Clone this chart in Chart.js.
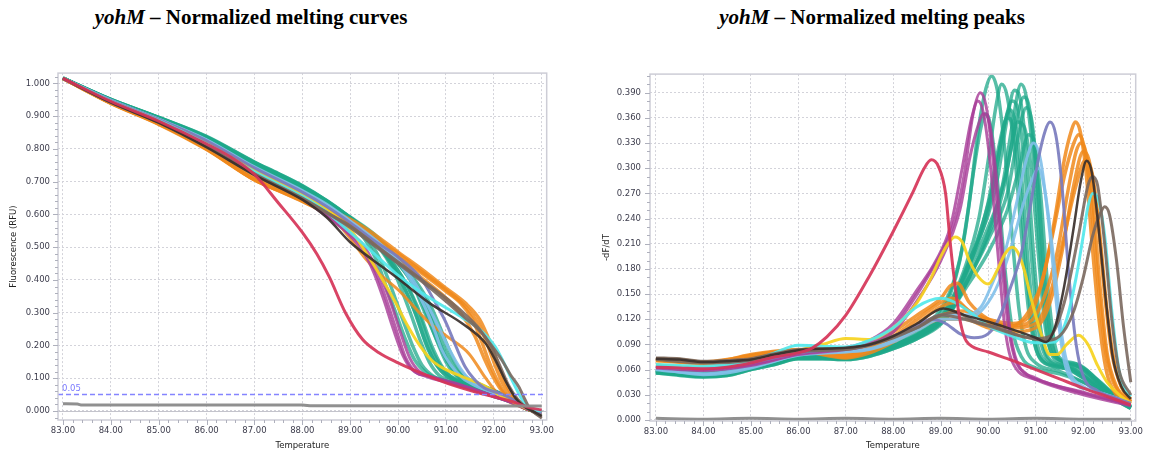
<!DOCTYPE html>
<html><head><meta charset="utf-8">
<script src="https://cdn.jsdelivr.net/npm/chart.js@4.4.1/dist/chart.umd.min.js"></script>
<style>
html,body{margin:0;padding:0;background:#fff;width:1149px;height:453px;overflow:hidden}
.t{position:absolute;top:4px;font-family:"Liberation Serif","Times New Roman",serif;font-weight:bold;font-size:21px;line-height:26px;white-space:nowrap;transform:translateX(-50%);color:#000}
#c1{position:absolute;left:0;top:60px}
#c2{position:absolute;left:590px;top:60px}
</style></head><body>
<div class="t" style="left:251px"><i>yohM</i> – Normalized melting curves</div>
<div class="t" style="left:872px"><i>yohM</i> – Normalized melting peaks</div>
<canvas id="c1" width="560" height="393" style="width:560px;height:393px"></canvas>
<canvas id="c2" width="559" height="393" style="width:559px;height:393px"></canvas>
<script>
// ---------- tick labels ----------
const tempTicks = [83,84,85,86,87,88,89,90,91,92,93];
const rfuTicks = [0,0.1,0.2,0.3,0.4,0.5,0.6,0.7,0.8,0.9,1.0];
const dfdtTicks = [0,0.03,0.06,0.09,0.12,0.15,0.18,0.21,0.24,0.27,0.30,0.33,0.36,0.39];
const threshold = 0.05;

// ---------- normalized melting curves (temperature, RFU) ----------
const curveNTC = [[83,.022],[83.3,.021],[83.4,.018],[88,.018],[88.2,.016],[93,.015]];
const curveRed = [[83,1.015],[84,.945],[85,.885],[86,.815],[86.5,.775],[87,.722],[87.5,.635],[88,.545],[88.3,.48],[88.56,.41],[88.9,.3],[89.26,.218],[89.6,.178],[90,.147],[90.3,.127],[91,.086],[91.69,.055],[92.38,.029],[92.7,.012],[93,.003]];
const curveMagenta1 = [[83,1.015],[84,.944],[85,.886],[86,.818],[87,.735],[87.5,.695],[88,.652],[88.5,.6],[89,.54],[89.3,.49],[89.6,.4],[89.8,.32],[90,.23],[90.15,.165],[90.37,.118],[90.6,.108],[91,.09],[91.5,.07],[92,.045],[92.4,.025],[92.7,.006],[93,-.004]];
const curveMagenta2 = [[83,1.015],[84,.945],[85,.887],[86,.82],[87,.737],[88,.655],[88.5,.605],[89,.545],[89.3,.5],[89.6,.42],[89.85,.33],[90.05,.24],[90.25,.16],[90.45,.12],[90.8,.1],[91.2,.085],[91.6,.065],[92,.045],[92.4,.025],[92.7,.006],[93,-.004]];
const curveMagenta3 = [[83,1.015],[84,.943],[85,.885],[86,.816],[87,.732],[88,.648],[88.5,.595],[89,.535],[89.3,.48],[89.5,.42],[89.7,.34],[89.9,.25],[90.1,.17],[90.3,.125],[90.6,.105],[91,.088],[91.5,.068],[92,.044],[92.4,.024],[92.7,.006],[93,-.004]];
const curveTeal1 = [[83,1.015],[84,.948],[85,.892],[86,.828],[87,.748],[87.5,.712],[88,.672],[88.5,.628],[89,.575],[89.3,.535],[89.6,.47],[89.85,.38],[90.07,.29],[90.3,.2],[90.5,.14],[90.75,.105],[91,.09],[91.5,.068],[92,.045],[92.4,.025],[92.7,.006],[93,-.006]];
const curveTeal2 = [[83,1.016],[84,.95],[85,.895],[86,.832],[87,.752],[87.5,.716],[88,.677],[88.5,.633],[89,.58],[89.3,.545],[89.6,.5],[89.9,.43],[90.1,.36],[90.28,.29],[90.45,.22],[90.65,.15],[90.85,.11],[91.1,.092],[91.5,.075],[92,.05],[92.4,.028],[92.7,.007],[93,-.005]];
const curveTeal3 = [[83,1.015],[84,.949],[85,.894],[86,.834],[87,.755],[87.5,.72],[88,.682],[88.5,.638],[89,.585],[89.5,.52],[89.9,.45],[90.2,.38],[90.4,.32],[90.55,.26],[90.7,.2],[90.9,.14],[91.1,.105],[91.4,.085],[91.8,.065],[92.2,.04],[92.5,.02],[92.7,.006],[93,-.004]];
const curveTeal4 = [[83,1.016],[84,.951],[85,.896],[86,.836],[87,.758],[87.5,.723],[88,.686],[88.5,.642],[89,.59],[89.5,.53],[90,.45],[90.3,.39],[90.5,.33],[90.69,.26],[90.85,.2],[91,.15],[91.2,.11],[91.5,.088],[91.9,.066],[92.3,.04],[92.6,.015],[92.7,.006],[93,-.004]];
const curveTeal5 = [[83,1.015],[84,.95],[85,.895],[86,.835],[87,.756],[87.5,.722],[88,.685],[88.5,.641],[89,.59],[89.5,.535],[90,.46],[90.4,.38],[90.6,.33],[90.8,.26],[90.95,.2],[91.15,.14],[91.35,.105],[91.7,.08],[92.1,.055],[92.5,.022],[92.7,.006],[93,-.003]];
const curveTeal6 = [[83,1.015],[84,.947],[85,.891],[86,.826],[87,.745],[87.5,.708],[88,.668],[88.5,.622],[89,.57],[89.3,.525],[89.55,.46],[89.75,.38],[89.95,.3],[90.15,.22],[90.35,.155],[90.6,.115],[91,.092],[91.5,.07],[92,.045],[92.4,.025],[92.7,.006],[93,-.005]];
const curveTeal7 = [[83,1.015],[84,.949],[85,.893],[86,.831],[87,.751],[87.5,.716],[88,.678],[88.5,.634],[89,.585],[89.5,.52],[89.9,.44],[90.15,.37],[90.3,.32],[90.45,.26],[90.62,.19],[90.8,.14],[91,.108],[91.4,.082],[91.8,.062],[92.2,.04],[92.5,.02],[92.7,.006],[93,-.004]];
const curveTeal8 = [[83,1.016],[84,.951],[85,.896],[86,.838],[87,.76],[87.5,.725],[88,.688],[88.5,.643],[89,.59],[89.5,.53],[90,.45],[90.3,.39],[90.5,.32],[90.62,.28],[90.8,.22],[91,.16],[91.2,.12],[91.5,.09],[91.9,.068],[92.3,.042],[92.6,.016],[92.7,.006],[93,-.004]];
const curveTeal9 = [[83,1.015],[84,.949],[85,.894],[86,.833],[87,.753],[87.5,.718],[88,.68],[88.5,.636],[89,.582],[89.5,.52],[89.9,.44],[90.15,.37],[90.3,.32],[90.4,.285],[90.55,.22],[90.75,.155],[90.95,.115],[91.3,.088],[91.8,.064],[92.2,.04],[92.5,.02],[92.7,.006],[93,-.004]];
const curveTeal10 = [[83,1.015],[84,.95],[85,.895],[86,.835],[87,.756],[87.5,.721],[88,.684],[88.5,.64],[89,.59],[89.5,.535],[90,.455],[90.35,.385],[90.6,.315],[90.75,.255],[90.9,.195],[91.1,.135],[91.3,.1],[91.7,.077],[92.1,.052],[92.5,.022],[92.7,.006],[93,-.004]];
const curveTeal11 = [[83,1.016],[84,.951],[85,.896],[86,.837],[87,.759],[87.5,.724],[88,.687],[88.5,.643],[89,.592],[89.5,.54],[90,.465],[90.4,.39],[90.65,.33],[90.85,.265],[91,.21],[91.2,.145],[91.4,.105],[91.7,.082],[92.1,.056],[92.5,.023],[92.7,.006],[93,-.003]];
const curveTeal12 = [[83,1.015],[84,.949],[85,.894],[86,.833],[87,.754],[87.5,.719],[88,.681],[88.5,.637],[89,.585],[89.5,.525],[89.9,.45],[90.2,.38],[90.35,.33],[90.5,.27],[90.65,.205],[90.85,.145],[91.05,.11],[91.4,.086],[91.8,.064],[92.2,.04],[92.5,.02],[92.7,.006],[93,-.004]];
const curveLightBlue1 = [[83,1.015],[84,.949],[85,.89],[86,.826],[87,.742],[88,.67],[88.5,.628],[89,.578],[89.5,.52],[90,.455],[90.3,.39],[90.55,.32],[90.75,.25],[90.9,.19],[91.1,.14],[91.35,.1],[91.6,.078],[92,.055],[92.4,.03],[92.7,.007],[93,-.004]];
const curveLightBlue2 = [[83,1.015],[84,.948],[85,.891],[86,.828],[87,.745],[88,.673],[88.5,.632],[89,.58],[89.5,.525],[90,.46],[90.4,.38],[90.7,.3],[90.9,.24],[91.1,.18],[91.3,.13],[91.5,.095],[91.8,.07],[92.2,.045],[92.5,.022],[92.7,.007],[93,-.004]];
const curveSlate = [[83,1.015],[84,.948],[85,.89],[86,.825],[87,.742],[88,.668],[88.5,.625],[89,.575],[89.5,.52],[90,.47],[90.5,.4],[90.78,.33],[91,.27],[91.2,.2],[91.4,.135],[91.6,.095],[91.8,.07],[92.1,.055],[92.4,.035],[92.7,.008],[93,-.006]];
const curveYellow = [[83,1.015],[84,.946],[85,.888],[86,.82],[87,.735],[88,.66],[88.5,.615],[89,.555],[89.3,.49],[89.6,.42],[89.95,.33],[90.2,.26],[90.45,.2],[90.7,.155],[90.95,.13],[91.3,.107],[91.6,.09],[91.85,.073],[92.1,.05],[92.4,.028],[92.7,.007],[93,-.004]];
const curveOrange1 = [[83,1.015],[84,.94],[85,.876],[86,.8],[87,.707],[87.5,.675],[88,.645],[88.5,.61],[89,.575],[89.5,.525],[90,.47],[90.5,.42],[91,.365],[91.3,.33],[91.55,.28],[91.75,.21],[91.9,.15],[92.05,.1],[92.25,.05],[92.5,.02],[92.7,.006],[93,-.004]];
const curveOrange2 = [[83,1.015],[84,.939],[85,.875],[86,.798],[87,.705],[87.5,.674],[88,.645],[88.5,.612],[89,.58],[89.5,.53],[90,.48],[90.5,.425],[91,.37],[91.4,.32],[91.7,.26],[91.9,.19],[92.05,.13],[92.2,.08],[92.4,.035],[92.7,.006],[93,-.005]];
const curveOrange3 = [[83,1.015],[84,.941],[85,.878],[86,.803],[87,.71],[87.5,.679],[88,.65],[88.5,.618],[89,.585],[89.5,.54],[90,.485],[90.5,.432],[91,.375],[91.4,.33],[91.7,.28],[91.95,.2],[92.1,.14],[92.3,.07],[92.5,.03],[92.7,.007],[93,-.006]];
const curveOrange4 = [[83,1.015],[84,.94],[85,.877],[86,.8],[87,.706],[87.5,.673],[88,.64],[88.5,.605],[89,.57],[89.5,.515],[90,.46],[90.5,.405],[91,.345],[91.3,.3],[91.6,.23],[91.8,.16],[92,.1],[92.2,.055],[92.45,.025],[92.7,.006],[93,-.004]];
const curveOrange5 = [[83,1.015],[84,.94],[85,.877],[86,.8],[87,.705],[88,.64],[88.5,.6],[88.8,.562],[89,.527],[89.3,.468],[89.6,.42],[90,.37],[90.65,.27],[91,.23],[91.48,.175],[91.83,.1],[92.1,.05],[92.4,.022],[92.7,.006],[93,-.004]];
const curveDark = [[83,1.015],[84,.942],[85,.88],[86,.805],[87,.72],[88,.645],[88.5,.592],[89,.515],[89.5,.458],[89.95,.41],[90.65,.33],[91.34,.267],[91.83,.206],[92.05,.15],[92.25,.09],[92.45,.04],[92.65,.012],[92.75,.004],[93,-.015]];
const curveBrown1 = [[83,1.015],[84,.943],[85,.882],[86,.808],[87,.724],[88,.65],[88.5,.607],[89,.56],[89.5,.505],[90,.45],[90.5,.395],[91,.335],[91.35,.29],[91.69,.247],[91.95,.2],[92.17,.155],[92.35,.11],[92.52,.074],[92.65,.035],[92.73,.012],[92.85,-.005],[93,-.022]];
const curveBrown2 = [[83,1.015],[84,.942],[85,.881],[86,.806],[87,.722],[88,.648],[88.5,.606],[89,.565],[89.5,.51],[90,.455],[90.5,.4],[91,.345],[91.4,.295],[91.7,.25],[91.95,.195],[92.15,.13],[92.3,.08],[92.5,.035],[92.7,.008],[93,-.018]];
const curveCyan = [[83,1.015],[84,.946],[85,.887],[86,.815],[87,.73],[88,.655],[88.5,.608],[89,.545],[89.5,.48],[89.95,.42],[90.5,.36],[91,.315],[91.34,.285],[91.7,.25],[92.03,.196],[92.2,.15],[92.38,.094],[92.55,.045],[92.66,.02],[92.8,.006],[93,0]];

// ---------- normalized melting peaks (temperature, -dF/dT) ----------
const peakNTC = [[83,.002],[84,.001],[85,.002],[86,.001],[87,.002],[88,.001],[89,.002],[90,.001],[91,.002],[92,.001],[93,.001]];
const peakRed = [[83,.063],[83.5,.062],[84,.061],[84.5,.063],[85,.068],[85.5,.075],[86,.08],[86.3,.086],[86.6,.099],[87,.125],[87.5,.172],[88,.225],[88.4,.27],[88.65,.3],[88.8,.31],[88.95,.302],[89.1,.27],[89.2,.21],[89.3,.16],[89.4,.12],[89.5,.098],[89.6,.09],[90,.081],[90.5,.071],[91,.06],[91.5,.049],[92,.038],[92.5,.028],[93,.018]];
const peakMagenta1 = [[83,.063],[83.5,.061],[84,.06],[84.5,.062],[85,.066],[85.5,.072],[86,.079],[86.5,.082],[87,.085],[87.5,.092],[88,.11],[88.5,.15],[88.8,.178],[89,.198],[89.3,.24],[89.5,.295],[89.68,.365],[89.83,.39],[89.95,.375],[90.1,.31],[90.25,.21],[90.4,.12],[90.55,.075],[90.8,.055],[91.2,.045],[92,.032],[93,.018]];
const peakMagenta2 = [[83,.062],[84,.059],[85,.065],[86,.078],[87,.084],[87.5,.09],[88,.105],[88.5,.142],[89,.19],[89.4,.25],[89.6,.31],[89.78,.35],[89.9,.365],[90.02,.355],[90.15,.3],[90.3,.2],[90.45,.11],[90.6,.07],[91,.05],[92,.033],[93,.018]];
const peakMagenta3 = [[83,.064],[84,.061],[85,.067],[86,.08],[87,.086],[87.5,.095],[88,.115],[88.5,.155],[88.9,.19],[89.2,.23],[89.45,.3],[89.65,.36],[89.78,.38],[89.9,.365],[90.05,.3],[90.2,.2],[90.35,.11],[90.5,.07],[91,.048],[92,.03],[93,.017]];
const peakTeal1 = [[83,.058],[83.5,.055],[84,.053],[84.5,.056],[85,.062],[85.5,.069],[86,.076],[86.5,.076],[87,.075],[87.5,.079],[88,.09],[88.5,.104],[89,.128],[89.2,.15],[89.4,.19],[89.6,.26],[89.8,.35],[89.95,.395],[90.07,.41],[90.2,.39],[90.35,.32],[90.5,.22],[90.65,.13],[90.8,.085],[91,.068],[91.5,.058],[92,.045],[92.5,.03],[93,.016]];
const peakTeal2 = [[83,.06],[83.5,.057],[84,.055],[84.5,.057],[85,.064],[85.5,.07],[86,.077],[86.5,.077],[87,.076],[87.5,.08],[88,.09],[88.5,.102],[89,.122],[89.2,.14],[89.5,.18],[89.8,.24],[90,.31],[90.15,.37],[90.28,.4],[90.4,.385],[90.55,.32],[90.7,.22],[90.85,.13],[91,.085],[91.3,.065],[91.8,.06],[92.2,.045],[92.6,.03],[93,.015]];
const peakTeal3 = [[83,.057],[83.5,.054],[84,.052],[84.5,.054],[85,.061],[85.5,.067],[86,.074],[86.5,.074],[87,.073],[87.5,.077],[88,.087],[88.5,.1],[89,.12],[89.2,.135],[89.6,.19],[90,.245],[90.2,.29],[90.4,.36],[90.55,.393],[90.68,.38],[90.8,.32],[90.95,.2],[91.1,.11],[91.25,.075],[91.6,.065],[92,.055],[92.4,.038],[92.7,.025],[93,.014]];
const peakTeal4 = [[83,.059],[83.5,.056],[84,.054],[84.5,.055],[85,.063],[85.5,.068],[86,.075],[86.5,.075],[87,.074],[87.5,.078],[88,.088],[88.5,.1],[89,.118],[89.2,.13],[89.6,.18],[90,.23],[90.3,.28],[90.5,.35],[90.69,.4],[90.8,.385],[90.95,.31],[91.1,.19],[91.25,.1],[91.4,.072],[91.8,.066],[92.2,.05],[92.6,.03],[93,.015]];
const peakTeal5 = [[83,.056],[83.5,.053],[84,.051],[84.5,.053],[85,.06],[85.5,.066],[86,.073],[86.5,.073],[87,.072],[87.5,.076],[88,.085],[88.5,.097],[89,.115],[89.2,.127],[89.6,.17],[90,.215],[90.4,.27],[90.6,.33],[90.8,.372],[90.92,.355],[91.05,.28],[91.2,.16],[91.35,.09],[91.6,.068],[92,.06],[92.4,.04],[92.8,.022],[93,.016]];
const peakTeal6 = [[83,.06],[83.5,.058],[84,.056],[84.5,.058],[85,.065],[85.5,.071],[86,.078],[86.5,.078],[87,.077],[87.5,.082],[88,.093],[88.5,.108],[89,.132],[89.3,.17],[89.5,.22],[89.7,.3],[89.85,.35],[89.95,.365],[90.05,.35],[90.2,.28],[90.35,.18],[90.5,.11],[90.7,.075],[91,.062],[91.5,.055],[92,.045],[92.5,.03],[93,.017]];
const peakTeal7 = [[83,.058],[83.5,.056],[84,.054],[84.5,.056],[85,.063],[85.5,.069],[86,.076],[86.5,.076],[87,.075],[87.5,.079],[88,.089],[88.5,.101],[89,.122],[89.2,.14],[89.6,.185],[90,.25],[90.2,.31],[90.35,.355],[90.45,.37],[90.57,.355],[90.7,.29],[90.85,.18],[91,.1],[91.2,.07],[91.6,.063],[92,.05],[92.4,.035],[92.8,.02],[93,.014]];
const peakTeal8 = [[83,.057],[83.5,.055],[84,.053],[84.5,.055],[85,.062],[85.5,.068],[86,.074],[86.5,.074],[87,.074],[87.5,.078],[88,.087],[88.5,.099],[89,.118],[89.2,.13],[89.6,.17],[90,.22],[90.3,.27],[90.5,.33],[90.62,.355],[90.75,.35],[90.9,.3],[91.05,.2],[91.2,.11],[91.4,.075],[91.8,.068],[92.2,.052],[92.6,.032],[93,.015]];
const peakTeal9 = [[83,.058],[83.5,.055],[84,.053],[84.5,.055],[85,.062],[85.5,.068],[86,.075],[86.5,.075],[87,.074],[87.5,.078],[88,.088],[88.5,.1],[89,.12],[89.3,.145],[89.7,.2],[90,.26],[90.2,.32],[90.4,.36],[90.52,.35],[90.65,.29],[90.8,.18],[90.95,.1],[91.15,.07],[91.6,.062],[92,.05],[92.5,.03],[93,.015]];
const peakTeal10 = [[83,.057],[83.5,.054],[84,.052],[84.5,.054],[85,.061],[85.5,.067],[86,.074],[86.5,.074],[87,.073],[87.5,.077],[88,.086],[88.5,.098],[89,.116],[89.4,.15],[89.8,.195],[90.1,.24],[90.4,.3],[90.6,.36],[90.75,.385],[90.87,.37],[91,.3],[91.15,.18],[91.3,.1],[91.5,.072],[91.9,.066],[92.3,.048],[92.7,.028],[93,.015]];
const peakTeal11 = [[83,.056],[83.5,.054],[84,.052],[84.5,.053],[85,.06],[85.5,.066],[86,.073],[86.5,.073],[87,.072],[87.5,.076],[88,.085],[88.5,.097],[89,.114],[89.5,.155],[90,.2],[90.4,.25],[90.65,.3],[90.85,.34],[90.97,.33],[91.1,.27],[91.25,.16],[91.4,.09],[91.6,.07],[92,.062],[92.4,.042],[92.8,.022],[93,.016]];
const peakTeal12 = [[83,.059],[83.5,.056],[84,.054],[84.5,.056],[85,.063],[85.5,.069],[86,.076],[86.5,.076],[87,.075],[87.5,.079],[88,.089],[88.5,.101],[89,.12],[89.4,.16],[89.8,.22],[90.1,.28],[90.3,.34],[90.5,.38],[90.62,.37],[90.75,.31],[90.9,.2],[91.05,.11],[91.25,.072],[91.6,.064],[92,.052],[92.4,.036],[92.8,.02],[93,.014]];
const peakLightBlue1 = [[83,.061],[83.5,.057],[84,.054],[84.5,.056],[85,.062],[85.5,.07],[86,.078],[86.5,.08],[87,.082],[87.5,.085],[88,.095],[88.5,.11],[89,.125],[89.5,.125],[89.85,.135],[90.1,.165],[90.35,.2],[90.6,.26],[90.8,.31],[90.95,.33],[91.1,.31],[91.3,.22],[91.45,.13],[91.6,.07],[91.8,.045],[92.2,.035],[92.6,.028],[93,.02]];
const peakLightBlue2 = [[83,.06],[84,.055],[85,.063],[86,.077],[87,.081],[87.5,.084],[88,.093],[88.5,.107],[89,.12],[89.5,.12],[89.85,.13],[90.15,.155],[90.45,.2],[90.75,.26],[90.95,.29],[91.05,.3],[91.2,.27],[91.4,.18],[91.55,.1],[91.7,.06],[92,.04],[92.5,.03],[93,.02]];
const peakSlate = [[83,.064],[83.5,.062],[84,.062],[84.5,.064],[85,.068],[85.5,.074],[86,.08],[86.5,.083],[87,.085],[87.5,.09],[88,.1],[88.5,.113],[88.8,.12],[89.1,.115],[89.4,.103],[89.7,.098],[90,.103],[90.2,.118],[90.45,.155],[90.7,.2],[90.9,.26],[91.05,.31],[91.2,.345],[91.3,.355],[91.42,.34],[91.55,.28],[91.7,.17],[91.85,.09],[92,.052],[92.3,.035],[92.7,.026],[93,.02]];
const peakYellow = [[83,.066],[83.5,.064],[84,.063],[84.5,.065],[85,.07],[85.5,.076],[86,.083],[86.5,.09],[87,.097],[87.5,.096],[88,.11],[88.5,.14],[88.8,.17],[89,.195],[89.15,.21],[89.3,.218],[89.45,.212],[89.6,.19],[89.8,.17],[90,.162],[90.2,.18],[90.35,.198],[90.5,.206],[90.62,.2],[90.75,.18],[90.9,.145],[91.1,.105],[91.3,.078],[91.45,.078],[91.65,.09],[91.9,.101],[92.1,.09],[92.3,.065],[92.5,.045],[92.8,.028],[93,.02]];
const peakOrange1 = [[83,.072],[83.5,.071],[84,.068],[84.5,.071],[85,.077],[85.5,.081],[86,.083],[86.5,.08],[87,.077],[87.5,.085],[88,.1],[88.5,.12],[89,.14],[89.25,.145],[89.6,.13],[90,.12],[90.5,.115],[90.8,.12],[91,.14],[91.2,.18],[91.4,.24],[91.6,.31],[91.75,.345],[91.83,.355],[91.93,.345],[92.05,.3],[92.2,.2],[92.35,.11],[92.5,.055],[92.7,.03],[93,.02]];
const peakOrange2 = [[83,.071],[83.5,.07],[84,.067],[84.5,.07],[85,.076],[85.5,.08],[86,.082],[86.5,.079],[87,.075],[87.5,.083],[88,.097],[88.5,.115],[89,.135],[89.3,.14],[89.7,.125],[90,.118],[90.5,.112],[90.9,.118],[91.2,.15],[91.45,.2],[91.7,.28],[91.85,.32],[91.95,.33],[92.05,.32],[92.2,.26],[92.35,.16],[92.5,.08],[92.7,.04],[93,.022]];
const peakOrange3 = [[83,.073],[83.5,.072],[84,.069],[84.5,.072],[85,.078],[85.5,.082],[86,.084],[86.5,.081],[87,.078],[87.5,.088],[88,.105],[88.5,.125],[89,.145],[89.2,.16],[89.35,.163],[89.6,.14],[90,.12],[90.5,.11],[91,.115],[91.3,.15],[91.6,.22],[91.85,.28],[92.05,.31],[92.2,.29],[92.35,.22],[92.5,.13],[92.65,.07],[92.8,.04],[93,.025]];
const peakOrange4 = [[83,.072],[84,.068],[85,.077],[86,.083],[87,.076],[87.5,.084],[88,.098],[88.5,.112],[89,.125],[89.5,.13],[90,.115],[90.5,.112],[90.8,.125],[91.1,.16],[91.35,.22],[91.6,.29],[91.8,.33],[91.9,.34],[92,.33],[92.15,.27],[92.3,.17],[92.45,.09],[92.6,.05],[92.8,.03],[93,.02]];
const peakOrange5 = [[83,.071],[84,.067],[85,.076],[86,.082],[87,.074],[87.5,.08],[88,.093],[88.5,.108],[89,.12],[89.5,.12],[90,.11],[90.5,.105],[91,.11],[91.3,.14],[91.55,.2],[91.8,.28],[92,.32],[92.12,.31],[92.3,.24],[92.45,.15],[92.6,.08],[92.8,.04],[93,.022]];
const peakDark = [[83,.073],[83.5,.072],[84,.069],[84.5,.07],[85,.072],[85.5,.078],[86,.083],[86.5,.085],[87,.086],[87.5,.09],[88,.1],[88.5,.115],[89.05,.133],[89.5,.125],[90,.117],[90.5,.108],[91,.098],[91.22,.093],[91.4,.11],[91.6,.16],[91.8,.23],[91.95,.285],[92.07,.309],[92.18,.295],[92.32,.23],[92.48,.14],[92.62,.075],[92.8,.04],[93,.025]];
const peakBrown1 = [[83,.074],[83.5,.073],[84,.07],[84.5,.071],[85,.073],[85.5,.079],[86,.084],[86.5,.085],[87,.085],[87.5,.09],[88,.1],[88.5,.11],[89,.125],[89.3,.128],[89.7,.118],[90.2,.11],[90.7,.1],[91.2,.095],[91.5,.1],[91.8,.13],[92,.17],[92.2,.22],[92.35,.245],[92.45,.254],[92.55,.245],[92.7,.19],[92.85,.11],[93,.045]];
const peakBrown2 = [[83,.072],[84,.068],[85,.071],[86,.082],[87,.084],[88,.098],[88.5,.11],[89,.125],[90,.112],[91,.097],[91.3,.1],[91.6,.14],[91.9,.22],[92.1,.28],[92.2,.29],[92.3,.28],[92.45,.21],[92.6,.12],[92.75,.06],[93,.03]];
const peakCyan = [[83,.066],[83.5,.065],[84,.064],[84.5,.066],[85,.07],[85.5,.08],[86,.089],[86.5,.088],[87,.087],[87.5,.095],[88,.11],[88.5,.135],[89,.145],[89.3,.14],[89.7,.125],[90,.112],[90.5,.1],[91,.092],[91.4,.093],[91.65,.12],[91.85,.17],[92,.22],[92.1,.255],[92.2,.27],[92.3,.265],[92.45,.22],[92.6,.13],[92.75,.06],[92.9,.035],[93,.028]];

// ---------- styles ----------
const COL = {
  teal:'rgba(31,168,138,0.75)', orange:'rgba(240,138,28,0.85)', lightBlue:'rgba(130,192,234,0.9)',
  magenta:'rgba(168,62,152,0.82)', yellow:'rgba(246,210,30,0.92)', slate:'rgba(122,124,190,0.92)',
  cyan:'rgba(82,232,236,0.92)', brown:'rgba(122,104,94,0.9)', dark:'rgba(58,48,44,0.92)',
  red:'rgba(214,52,88,0.92)', gray:'rgba(138,138,138,0.95)'
};
// bottom-most first
function buildSets(list){
  const n = list.length;
  return list.map(([data,c,w],i)=>({
    data: data.map(([x,y])=>({x,y})), borderColor:COL[c], borderWidth:w||3,
    pointRadius:0, fill:false, cubicInterpolationMode:'monotone', order:n-i
  }));
}
const leftSets = buildSets([
  [curveTeal1,'teal',3.5],[curveTeal2,'teal',3.5],[curveTeal3,'teal',3.5],[curveTeal4,'teal',3.5],
  [curveTeal5,'teal',3.5],[curveTeal6,'teal',3.5],[curveTeal7,'teal',3.5],[curveTeal8,'teal',3.5],
  [curveTeal9,'teal',3.5],[curveTeal10,'teal',3.5],[curveTeal11,'teal',3.5],[curveTeal12,'teal',3.5],
  [curveOrange1,'orange',3.5],[curveOrange2,'orange',3.5],[curveOrange3,'orange',3.5],[curveOrange4,'orange',3.5],[curveOrange5,'orange',3],
  [curveLightBlue1,'lightBlue'],[curveLightBlue2,'lightBlue'],
  [curveMagenta1,'magenta'],[curveMagenta2,'magenta'],[curveMagenta3,'magenta'],
  [curveYellow,'yellow'],[curveSlate,'slate'],[curveCyan,'cyan'],
  [curveBrown1,'brown'],[curveBrown2,'brown'],[curveDark,'dark',2.5],
  [curveRed,'red',3],[curveNTC,'gray',3]
]);
const rightSets = buildSets([
  [peakTeal1,'teal',3.5],[peakTeal2,'teal',3.5],[peakTeal3,'teal',3.5],[peakTeal4,'teal',3.5],
  [peakTeal5,'teal',3.5],[peakTeal6,'teal',3.5],[peakTeal7,'teal',3.5],[peakTeal8,'teal',3.5],
  [peakTeal9,'teal',3.5],[peakTeal10,'teal',3.5],[peakTeal11,'teal',3.5],[peakTeal12,'teal',3.5],
  [peakOrange1,'orange',3.5],[peakOrange2,'orange',3.5],[peakOrange3,'orange',3.5],[peakOrange4,'orange',3.5],[peakOrange5,'orange',3.5],
  [peakLightBlue1,'lightBlue'],[peakLightBlue2,'lightBlue'],
  [peakMagenta1,'magenta'],[peakMagenta2,'magenta'],[peakMagenta3,'magenta'],
  [peakYellow,'yellow'],[peakSlate,'slate'],[peakCyan,'cyan'],
  [peakBrown1,'brown'],[peakBrown2,'brown'],[peakDark,'dark',2.5],
  [peakRed,'red',3],[peakNTC,'gray',3]
]);

const tickFont = {family:'DejaVu Sans', size:8.5};
const tickColor = '#3c3c4c';

// draws frame, minor/major tick marks, zero line and threshold
const deco = {
  id:'deco',
  beforeDatasetsDraw(chart, args, o){
    if(!o.zero) return;
    const {ctx, chartArea:a, scales:{y}} = chart;
    const py = Math.round(y.getPixelForValue(0))+0.5;
    ctx.save(); ctx.strokeStyle='#c4c4cc'; ctx.lineWidth=1;
    ctx.beginPath(); ctx.moveTo(a.left,py); ctx.lineTo(a.right,py); ctx.stroke(); ctx.restore();
  },
  afterDatasetsDraw(chart, args, o){
    if(o.threshold==null) return;
    const {ctx, chartArea:a, scales:{x,y}} = chart;
    const py = y.getPixelForValue(o.threshold);
    ctx.save(); ctx.strokeStyle='#8585ff'; ctx.lineWidth=1.5; ctx.setLineDash([5,3]);
    ctx.beginPath(); ctx.moveTo(a.left,py); ctx.lineTo(a.right,py); ctx.stroke();
    ctx.setLineDash([]); ctx.fillStyle='#7a7aff'; ctx.font='8.5px "DejaVu Sans"';
    ctx.textAlign='left'; ctx.textBaseline='bottom';
    ctx.fillText(o.threshold.toFixed(2), x.getPixelForValue(tempTicks[0])-1, py-2);
    ctx.restore();
  },
  afterDraw(chart, args, o){
    const {ctx, chartArea:a, scales:{x,y}} = chart;
    ctx.save();
    ctx.strokeStyle='#cdcdd6'; ctx.lineWidth=1.5;
    ctx.strokeRect(a.left, a.top, a.right-a.left, a.bottom-a.top);
    ctx.strokeStyle='#aeb0bc'; ctx.lineWidth=1;
    const marks = (scale, majors, sub, horiz) => {
      const step = (majors[1]-majors[0])/sub;
      let v = majors[0] - Math.floor((majors[0]-scale.min)/step+1e-6)*step;
      ctx.beginPath();
      for(; v <= scale.max+1e-9; v += step){
        const major = majors.some(m=>Math.abs(m-v)<step/10);
        const len = major?5:3;
        const p = Math.round(scale.getPixelForValue(v))+0.5;
        if(horiz){ ctx.moveTo(p,a.bottom); ctx.lineTo(p,a.bottom+len); }
        else { ctx.moveTo(a.left,p); ctx.lineTo(a.left-len,p); }
      }
      ctx.stroke();
    };
    marks(x, tempTicks, 5, true);
    marks(y, o.yMajors, o.ySub, false);
    ctx.restore();
  }
};

function makeChart(id, sets, yOpt, pad, yWidth, xHeight, yTitle, yTitlePad, yLabelPad, decoOpt){
  return new Chart(document.getElementById(id), {
    type:'line',
    data:{datasets:sets},
    plugins:[deco],
    options:{
      responsive:false, animation:false, devicePixelRatio:1,
      layout:{padding:pad},
      plugins:{legend:{display:false}, tooltip:{enabled:false}, deco:decoOpt},
      scales:{
        x:{type:'linear', min:yOpt.xmin, max:yOpt.xmax,
          afterBuildTicks:s=>{s.ticks = tempTicks.map(v=>({value:v}));},
          afterFit:s=>{s.height = xHeight;},
          ticks:{callback:v=>Number(v).toFixed(2), font:tickFont, color:tickColor, padding:6, maxRotation:0, autoSkip:false},
          grid:{color:'#d3d3da', lineWidth:1, drawTicks:false},
          border:{display:false, dash:[2,2]},
          title:{display:true, text:'Temperature', font:tickFont, color:'#222', padding:{top:0,bottom:2}}
        },
        y:{type:'linear', min:yOpt.ymin, max:yOpt.ymax,
          afterBuildTicks:s=>{s.ticks = yOpt.ticks.map(v=>({value:v}));},
          afterFit:s=>{s.width = yWidth;},
          ticks:{callback:v=>Number(v).toFixed(3), font:tickFont, color:tickColor, padding:yLabelPad, autoSkip:false},
          grid:{color:'#d3d3da', lineWidth:1, drawTicks:false},
          border:{display:false, dash:[2,2]},
          title:{display:true, text:yTitle, font:tickFont, color:'#222', padding:{top:yTitlePad,bottom:0}}
        }
      }
    }
  });
}

makeChart('c1', leftSets, {xmin:82.896, xmax:93.104, ymin:-0.0275, ymax:1.0314, ticks:rfuTicks},
  {top:13, right:12, left:0, bottom:0}, 58, 33, 'Fluorescence (RFU)', 9, 8,
  {zero:true, threshold:threshold, yMajors:rfuTicks, ySub:5});
makeChart('c2', rightSets, {xmin:82.8755, xmax:93.1037, ymin:-0.0012, ymax:0.4122, ticks:dfdtTicks},
  {top:13, right:6, left:0, bottom:0}, 60, 32, '-dF/dT', 12, 9,
  {zero:false, threshold:null, yMajors:dfdtTicks, ySub:3});
</script>
</body></html>
